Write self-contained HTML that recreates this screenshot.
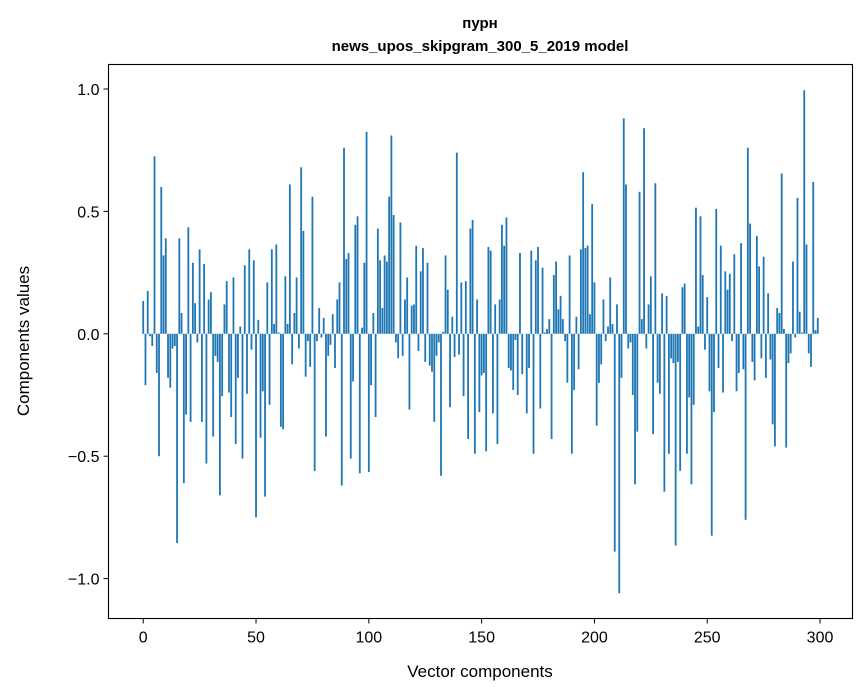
<!DOCTYPE html>
<html><head><meta charset="utf-8"><style>
html,body{margin:0;padding:0;background:#fff;}
svg{display:block;font-family:"Liberation Sans","DejaVu Sans",sans-serif;}
</style></head><body>
<svg id="chart" width="867" height="696" viewBox="0 0 867 696">
<text x="480" y="28" text-anchor="middle" font-size="15" font-weight="bold">пурн</text>
<text x="480" y="51" text-anchor="middle" font-size="15" font-weight="bold">news_upos_skipgram_300_5_2019 model</text>
<g id="bars"></g>
<g id="xticks"></g>
<g id="yticks"></g>
<rect x="108.5" y="64.5" width="744" height="554" fill="none" stroke="#000" stroke-width="1.1"/>
<text x="480" y="677" text-anchor="middle" font-size="17">Vector components</text>
<text transform="translate(29,341) rotate(-90)" text-anchor="middle" font-size="17">Components values</text>
</svg>
<script>
const values = [
0.134,-0.21,0.175,-0.01,-0.05,0.725,-0.16,-0.50,0.60,0.32,
0.39,-0.18,-0.22,-0.06,-0.05,-0.855,0.39,0.085,-0.61,-0.33,
0.435,-0.36,0.29,0.125,-0.035,0.345,-0.36,0.285,-0.53,0.14,
0.17,-0.42,-0.09,-0.115,-0.66,-0.255,0.12,0.215,-0.24,-0.34,
0.23,-0.45,-0.18,0.03,-0.51,0.28,-0.245,0.345,-0.065,0.30,
-0.75,0.057,-0.425,-0.235,-0.665,0.21,-0.29,0.345,0.04,0.365,
0.005,-0.38,-0.39,0.235,0.04,0.61,-0.125,0.085,0.23,-0.06,
0.68,0.42,-0.175,-0.03,-0.135,0.56,-0.56,-0.03,0.105,-0.015,
0.065,-0.42,-0.09,-0.045,0.08,-0.14,0.14,0.21,-0.62,0.76,
0.305,0.33,-0.51,-0.195,0.445,0.48,-0.57,0.025,0.29,0.825,
-0.565,-0.21,0.085,-0.34,0.43,0.30,0.105,0.32,0.295,0.56,
0.81,0.485,-0.035,-0.10,0.455,-0.09,0.14,0.23,-0.31,0.115,
0.12,0.36,-0.07,0.255,0.35,-0.115,0.29,-0.13,-0.155,-0.36,
-0.09,-0.035,-0.58,0.008,0.32,0.18,-0.30,0.07,-0.095,0.74,
-0.085,0.21,-0.255,0.215,-0.43,0.43,0.465,-0.49,0.14,-0.32,
-0.17,-0.16,-0.48,0.355,0.34,-0.325,0.12,-0.45,0.14,0.445,
0.36,0.475,-0.14,-0.15,-0.23,-0.025,-0.25,0.33,-0.165,0.0,
-0.325,-0.14,0.34,-0.49,0.30,0.355,-0.305,0.27,0.005,0.02,
0.06,-0.43,0.24,0.295,0.10,0.155,0.06,-0.03,-0.20,0.32,
-0.49,-0.23,0.07,-0.145,0.345,0.66,0.35,0.36,0.08,0.53,
0.21,-0.375,-0.20,-0.125,0.14,-0.03,0.03,0.23,0.04,-0.89,
0.12,-1.06,-0.18,0.88,0.61,-0.06,-0.035,-0.25,-0.615,-0.40,
0.58,0.06,0.84,-0.06,0.12,0.235,-0.41,0.615,-0.20,-0.245,
0.165,-0.645,0.155,-0.49,-0.10,-0.12,-0.865,-0.115,-0.56,0.19,
0.205,-0.49,-0.26,-0.615,-0.29,0.515,0.03,0.48,0.24,-0.065,
0.15,-0.235,-0.825,-0.32,0.51,-0.14,0.36,-0.24,0.255,0.18,
0.245,-0.03,0.325,-0.235,-0.16,0.37,-0.145,-0.76,0.76,0.45,
-0.115,-0.19,0.40,0.275,-0.10,0.315,-0.18,0.165,-0.105,-0.37,
-0.46,0.105,0.085,0.655,0.02,-0.465,-0.12,-0.08,0.295,-0.015,
0.555,0.09,0.005,0.995,0.365,-0.08,-0.135,0.62,0.015,0.065
];
const xTickValues = [0,50,100,150,200,250,300];
const yTickValues = [1.0,0.5,0.0,-0.5,-1.0];
const yTickLabels = ["1.0","0.5","0.0","\u22120.5","\u22121.0"];

const NS = "http://www.w3.org/2000/svg";
const L=108.5,R=852.5,T=64.5,B=618.5;
const xMin=-15.39,xMax=314.39,yMin=-1.163,yMax=1.1;
function sx(v){return L+(v-xMin)/(xMax-xMin)*(R-L);}
function sy(v){return B-(v-yMin)/(yMax-yMin)*(B-T);}

const bars=document.getElementById('bars');
values.forEach((v,i)=>{
  const r=document.createElementNS(NS,'rect');
  const x0=sx(i-0.4),x1=sx(i+0.4);
  const y0=sy(Math.max(v,0)),y1=sy(Math.min(v,0));
  r.setAttribute('x',x0);r.setAttribute('width',x1-x0);
  r.setAttribute('y',y0);r.setAttribute('height',Math.max(y1-y0,0));
  r.setAttribute('fill','#1f77b4');
  
  
  bars.appendChild(r);
});
const xt=document.getElementById('xticks');
xTickValues.forEach(v=>{
  const x=sx(v);
  const l=document.createElementNS(NS,'line');
  l.setAttribute('x1',x);l.setAttribute('x2',x);l.setAttribute('y1',B);l.setAttribute('y2',B+5);
  l.setAttribute('stroke','#000');
  
  
  xt.appendChild(l);
  const t=document.createElementNS(NS,'text');
  t.setAttribute('x',x);t.setAttribute('y',B+24);t.setAttribute('text-anchor','middle');t.setAttribute('font-size','16');
  t.textContent=String(v);
  
  
  xt.appendChild(t);
});
const yt=document.getElementById('yticks');
yTickValues.forEach((v,i)=>{
  const y=sy(v);
  const l=document.createElementNS(NS,'line');
  l.setAttribute('x1',L-5);l.setAttribute('x2',L);l.setAttribute('y1',y);l.setAttribute('y2',y);
  l.setAttribute('stroke','#000');
  
  
  yt.appendChild(l);
  const t=document.createElementNS(NS,'text');
  t.setAttribute('x',L-9);t.setAttribute('y',y+6);t.setAttribute('text-anchor','end');t.setAttribute('font-size','16');
  t.textContent=yTickLabels[i];
  
  
  yt.appendChild(t);
});
</script>
</body></html>
